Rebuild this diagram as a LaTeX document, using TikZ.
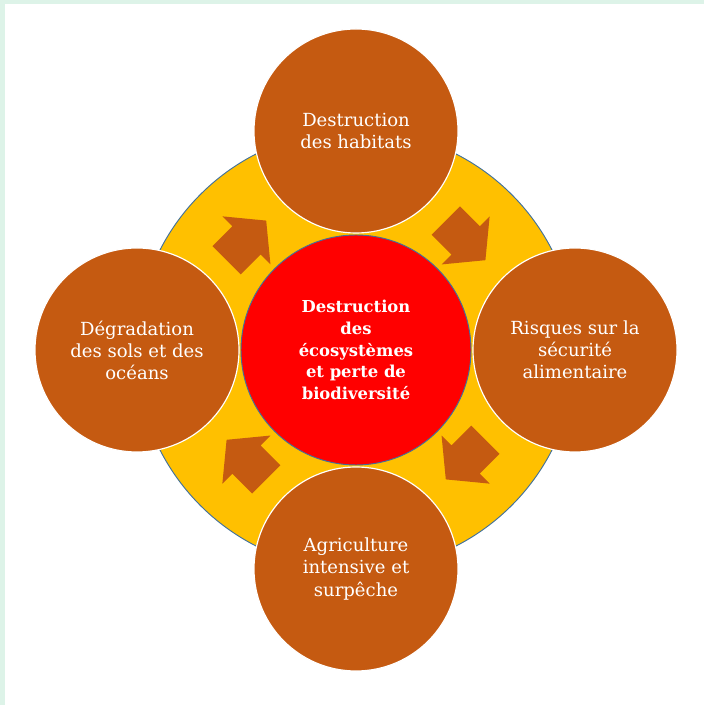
\documentclass[tikz,border=0pt]{standalone}
\usepackage{fontspec}
\setmainfont{DejaVu Serif}
\usetikzlibrary{calc}
\definecolor{brun}{HTML}{C55A11}
\definecolor{jaune}{HTML}{FFC000}
\definecolor{rouge}{HTML}{FF0000}
\definecolor{bord}{HTML}{41719C}
\definecolor{menthe}{HTML}{DDF3E8}
\tikzset{
  cause/.style={circle,fill=brun,draw=white,line width=1pt,minimum size=61.2mm,
    inner sep=0pt,text=white,align=center,font=\fontsize{15.4}{18.8}\selectfont},
  coeur/.style={circle,fill=rouge,draw=bord,line width=0.8pt,minimum size=69mm,
    inner sep=0pt,text=white,align=center,font=\bfseries\fontsize{14}{18.5}\selectfont},
  fleche/.pic={\fill[brun] (-28,-20) -- (0,-20) -- (0,-34) -- (28,0) -- (0,34) -- (0,20) -- (-28,20) -- cycle;}
}
\begin{document}
\begin{tikzpicture}[x=0.3mm,y=0.3mm]
\useasboundingbox (0,0) rectangle (704,705);
\fill[white] (0,0) rectangle (704,705);
\fill[menthe] (0,701) rectangle (704,705);
\fill[menthe] (0,0) rectangle (5,705);

\coordinate (centre) at (356,355);
\filldraw[fill=jaune,draw=bord,line width=0.8pt] (centre) circle (220);

\pic[rotate=45] at ($(centre)+(135:155)$) {fleche};
\pic[rotate=-45] at ($(centre)+(45:155)$) {fleche};
\pic[rotate=-135] at ($(centre)+(-45:155)$) {fleche};
\pic[rotate=135] at ($(centre)+(-135:155)$) {fleche};

\node[coeur] (bio) at (centre) {Destruction\\des\\écosystèmes\\et perte de\\biodiversité};

\node[cause] (habitats) at (356,574) {Destruction\\des habitats};
\node[cause] (securite) at (575,355) {Risques sur la\\sécurité\\alimentaire};
\node[cause] (agri) at (356,136) {Agriculture\\intensive et\\surpêche};
\node[cause] (sols) at (137,355) {Dégradation\\des sols et des\\océans};
\end{tikzpicture}
\end{document}
